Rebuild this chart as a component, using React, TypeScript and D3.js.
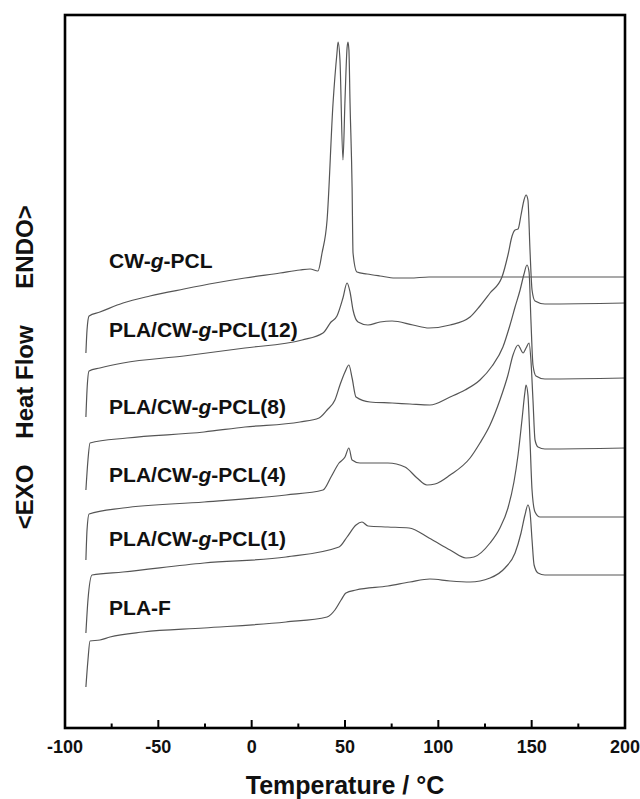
import React from 'react';
import * as d3 from 'd3';

// ---- data (temperature in °C, heat flow in arbitrary units) ----
const cwTemp = [-88.8, -88.2, -87.1, -81.3, -68.9, -54.5, -36.3, -19.6, -3.6, 15.2, 25.9, 31.3, 35.5, 37.7, 40.4, 43.6, 45.7, 46.3, 47.3, 48.9, 50.0, 51.1, 51.6, 52.1, 52.7, 53.8, 54.3, 56.4, 61.8, 68.8, 76.8, 84.8, 95, 200];
const cwFlow = [375, 398, 412, 416, 425, 432, 439, 445, 450, 455, 458, 459, 457, 475, 508, 625, 675, 686, 668, 568, 628, 680, 686, 678, 625, 541, 475, 456, 454, 452, 450, 450, 451, 451];

const p12Temp = [-88.8, -88.2, -87.1, -81.3, -68.9, -36.3, -3.6, 27.0, 38.2, 42.5, 45.7, 48.9, 51.1, 52.7, 54.3, 57.0, 62.3, 68.8, 75.2, 86.4, 95, 106.3, 117, 122.3, 127.7, 134.1, 137.3, 139.5, 141.1, 142.7, 144.3, 145.9, 147.0, 148.0, 149.1, 150.2, 151.8, 157.1, 200];
const p12Flow = [311, 338, 357, 360, 365, 372, 380, 388, 395, 406, 412, 430, 445, 436, 418, 406, 403, 406, 407, 403, 400, 403, 411, 422, 435, 451, 473, 492, 498, 499, 513, 528, 533, 528, 478, 438, 427, 424, 425];

const p8Temp = [-88.8, -87.7, -86.6, -66.8, -25.5, -3.6, 25.9, 36.1, 40.4, 44.6, 47.3, 50.0, 52.1, 53.8, 55.9, 63.4, 75.2, 84.8, 95.5, 106.3, 114.3, 122.3, 128.8, 134.6, 138.4, 141.1, 143.8, 145.9, 147.5, 148.6, 149.6, 150.7, 152.3, 157.1, 200];
const p8Flow = [238, 268, 285, 290, 296, 301, 306, 310, 318, 328, 343, 356, 363, 350, 331, 326, 325, 324, 323, 331, 338, 348, 362, 381, 403, 421, 438, 454, 463, 456, 408, 363, 352, 349, 350];

const p4Temp = [-88.8, -88.2, -87.1, -68.9, -25.5, 18.4, 38.2, 42.5, 46.8, 50.0, 52.1, 53.8, 58.0, 73.0, 82.1, 88.6, 93.9, 98.2, 106.3, 117.0, 122.3, 127.7, 133.0, 137.3, 140.0, 142.7, 144.3, 145.4, 147.0, 148.6, 149.6, 150.7, 151.8, 153.4, 157.1, 200];
const p4Flow = [168, 198, 214, 220, 226, 233, 238, 251, 265, 271, 280, 268, 265, 265, 261, 250, 243, 244, 253, 270, 285, 303, 328, 353, 373, 383, 378, 375, 380, 385, 368, 328, 288, 281, 279, 280];

const p1Temp = [-88.8, -87.7, -85.5, -68.9, -25.5, 18.4, 46.8, 51.1, 55.9, 59.1, 62.3, 73.0, 84.3, 95.0, 106.3, 114.8, 119.1, 127.7, 133.0, 137.3, 140.5, 142.7, 144.8, 146.4, 147.0, 148.0, 149.1, 150.2, 151.8, 154.5, 200];
const p1Flow = [95, 128, 153, 156, 165, 171, 181, 191, 203, 206, 202, 201, 200, 190, 178, 170, 171, 185, 200, 220, 246, 273, 308, 336, 343, 333, 288, 238, 216, 211, 211];

const plaTemp = [-88.8, -87.7, -86.6, -81.3, -75.9, -58.2, -25.5, 18.4, 40.4, 44.6, 47.9, 50.5, 55.9, 73.0, 84.8, 95.5, 106.3, 117.0, 127.7, 135.7, 141.1, 144.3, 146.4, 148.0, 149.1, 150.2, 151.3, 153.4, 157.1, 200];
const plaFlow = [41, 68, 87, 88, 91, 96, 100, 106, 111, 118, 128, 135, 138, 142, 146, 149, 147, 146, 150, 160, 175, 195, 213, 223, 216, 188, 163, 155, 153, 153];

const seriesNames = ['CW-g-PCL', 'PLA/CW-g-PCL(12)', 'PLA/CW-g-PCL(8)', 'PLA/CW-g-PCL(4)', 'PLA/CW-g-PCL(1)', 'PLA-F'];
const seriesTemps = [cwTemp, p12Temp, p8Temp, p4Temp, p1Temp, plaTemp];
const seriesFlows = [cwFlow, p12Flow, p8Flow, p4Flow, p1Flow, plaFlow];

const xTickLabels = [-100, -50, 0, 50, 100, 150, 200];
const xMinorTicks = [-75, -25, 25, 75, 125, 175];

const xTitle = 'Temperature / \u00B0C';
const yTitleParts = ['<EXO', 'Heat Flow', 'ENDO>'];

// ---- layout ----
const W = 640;
const H = 799;
const left = 65, right = 625, top = 15, bottom = 728;
const font = '"Liberation Sans", Arial, Helvetica, sans-serif';
const yTitleCenters = [497, 382, 247];

// label anchors in data units (temperature, heat flow)
const labelTemp = -76.4;
const labelFlow = [460, 391, 314, 246, 182, 113];

function SeriesLabel({ name, x, y }: { name: string; x: number; y: number }) {
  const parts = name.split('-g-');
  return (
    <text x={x} y={y} fontFamily={font} fontWeight="bold" fontSize={21} fill="#111">
      {parts[0]}-<tspan fontStyle="italic">g</tspan>-{parts[1]}
    </text>
  );
}

export default function App() {
  const x = d3.scaleLinear().domain([-100, 200]).range([left, right]);
  const y = d3.scaleLinear().domain([0, 713]).range([bottom, top]);
  const line = d3
    .line<[number, number]>()
    .x((d) => x(d[0]))
    .y((d) => y(d[1]))
    .curve(d3.curveMonotoneX);

  return (
    <svg
      width={W}
      height={H}
      viewBox={`0 0 ${W} ${H}`}
      style={{ position: 'absolute', left: 0, top: 0, background: '#fff' }}
    >
      <rect x={0} y={0} width={W} height={H} fill="#fff" />
      {seriesTemps.map((ts, i) => {
        const pts: [number, number][] = ts.map((t, j) => [t, seriesFlows[i][j]]);
        return (
          <path
            key={seriesNames[i]}
            d={line(pts) || ''}
            fill="none"
            stroke="#555"
            strokeWidth={1.2}
            strokeLinejoin="round"
          />
        );
      })}
      {seriesNames.map((n, i) =>
        n.includes('-g-') ? (
          <SeriesLabel key={n} name={n} x={x(labelTemp)} y={y(labelFlow[i])} />
        ) : (
          <text key={n} x={x(labelTemp)} y={y(labelFlow[i])} fontFamily={font} fontWeight="bold" fontSize={21} fill="#111">
            {n}
          </text>
        )
      )}
      {/* ticks */}
      {xTickLabels.map((t) => (
        <g key={'M' + t}>
          <line x1={x(t)} x2={x(t)} y1={bottom} y2={bottom - 8} stroke="#000" strokeWidth={2} />
          <text x={x(t)} y={753} textAnchor="middle" fontFamily={font} fontWeight="bold" fontSize={18} fill="#111">
            {t}
          </text>
        </g>
      ))}
      {xMinorTicks.map((t) => (
        <line key={'m' + t} x1={x(t)} x2={x(t)} y1={bottom} y2={bottom - 4.5} stroke="#000" strokeWidth={2} />
      ))}
      {/* frame */}
      <rect x={left} y={top} width={right - left} height={bottom - top} fill="none" stroke="#000" strokeWidth={2.6} />
      {/* axis titles */}
      <text x={(left + right) / 2} y={794} textAnchor="middle" fontFamily={font} fontWeight="bold" fontSize={25} fill="#111">
        {xTitle}
      </text>
      {yTitleParts.map((p, i) => (
        <text
          key={p}
          transform={`translate(33, ${yTitleCenters[i]}) rotate(-90)`}
          textAnchor="middle"
          fontFamily={font}
          fontWeight="bold"
          fontSize={24}
          fill="#111"
        >
          {p}
        </text>
      ))}
    </svg>
  );
}
